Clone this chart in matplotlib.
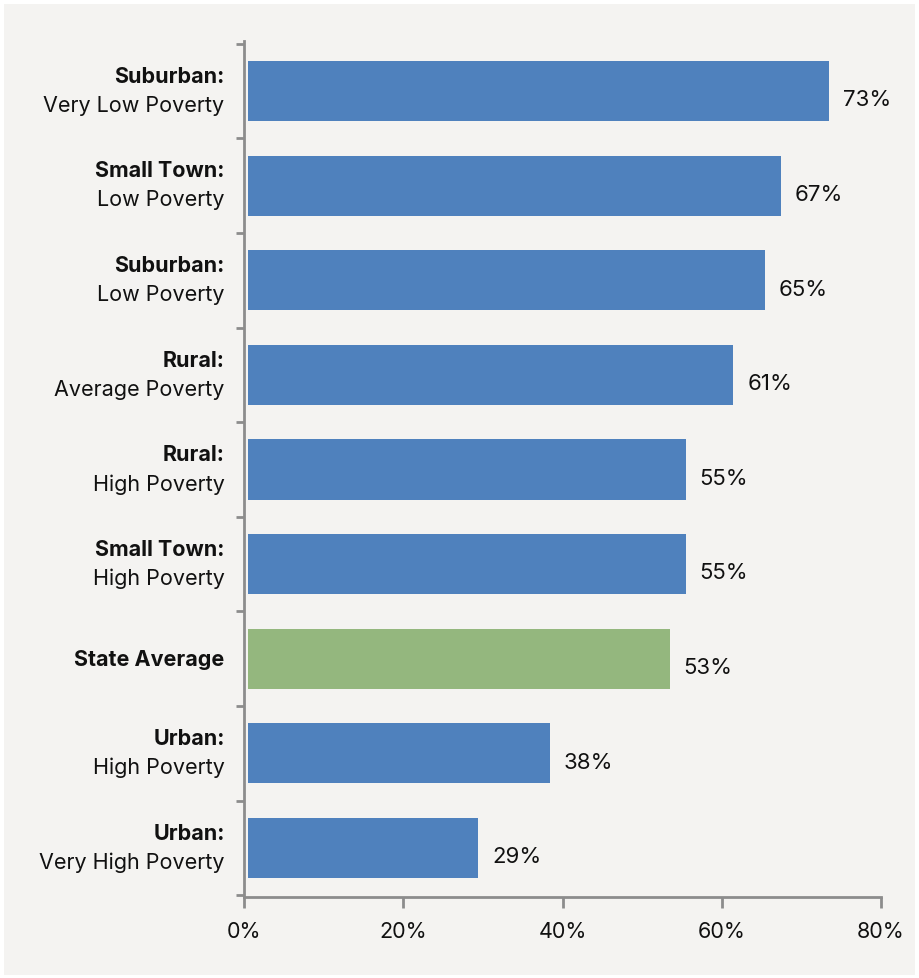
import matplotlib
matplotlib.use("Agg")
import matplotlib.pyplot as plt
from matplotlib.patches import Rectangle

# Share of students, by community type and poverty level
group_names = ["Suburban:", "Small Town:", "Suburban:", "Rural:", "Rural:",
               "Small Town:", "State Average", "Urban:", "Urban:"]
poverty_levels = ["Very Low Poverty", "Low Poverty", "Low Poverty", "Average Poverty",
                  "High Poverty", "High Poverty", "", "High Poverty", "Very High Poverty"]
values = [73, 67, 65, 61, 55, 55, 53, 38, 29]
x_ticks = [0, 20, 40, 60, 80]
x_tick_labels = ["0%", "20%", "40%", "60%", "80%"]

BLUE = "#4f81bd"
GREEN = "#94b77e"
PANEL = "#f4f3f1"
AXIS = "#8c8c8c"
TEXT = "#111111"
FONT = "Inter"

fig = plt.figure(figsize=(9.2, 9.79), dpi=100)
fig.patch.set_facecolor("white")
panel = Rectangle((4 / 920, 3 / 979), 911 / 920, 971 / 979,
                  transform=fig.transFigure, facecolor=PANEL,
                  edgecolor="none", zorder=-10)
fig.add_artist(panel)

ax = fig.add_axes([244 / 920, 1 - 898 / 979, 637 / 920, 856 / 979])
ax.set_facecolor("none")
ax.set_zorder(1)

n = len(values)
ypos = list(range(n))
colors = [GREEN if g == "State Average" else BLUE for g in group_names]
ax.barh(ypos, values, height=0.635, left=0.45, color=colors, zorder=2)

ax.set_xlim(0, 80)
ax.set_ylim(n - 0.482, -0.528)
ax.set_xticks(x_ticks)
ax.set_xticklabels(x_tick_labels, fontsize=15.5, family=FONT, color=TEXT)
ax.set_yticks([i - 0.5 for i in range(n + 1)])
ax.set_yticklabels([])

for side in ("top", "right"):
    ax.spines[side].set_visible(False)
for side in ("left", "bottom"):
    ax.spines[side].set_color(AXIS)
    ax.spines[side].set_linewidth(2)
ax.tick_params(axis="x", length=8, width=2, color=AXIS, pad=9)
ax.tick_params(axis="y", length=6, width=2, color=AXIS)

# Two-line category labels: bold group name above plain poverty level
for i, (g, p) in enumerate(zip(group_names, poverty_levels)):
    common = dict(xy=(0, i), xycoords=("axes fraction", "data"),
                  textcoords="offset points", ha="right", va="center",
                  fontsize=15.5, family=FONT, color=TEXT)
    if p:
        ax.annotate(g, xytext=(-14, 11), fontweight="bold", **common)
        ax.annotate(p, xytext=(-14, -10), **common)
    else:
        ax.annotate(g, xytext=(-14, 0), fontweight="bold", **common)

# Value labels at the end of each bar
for i, v in enumerate(values):
    ax.annotate(f"{v}%", xy=(v + 0.45, i), xytext=(10, -6), textcoords="offset points",
                ha="left", va="center", fontsize=16, family=FONT, color=TEXT)

fig.savefig("out.png", dpi=100, facecolor="white")
